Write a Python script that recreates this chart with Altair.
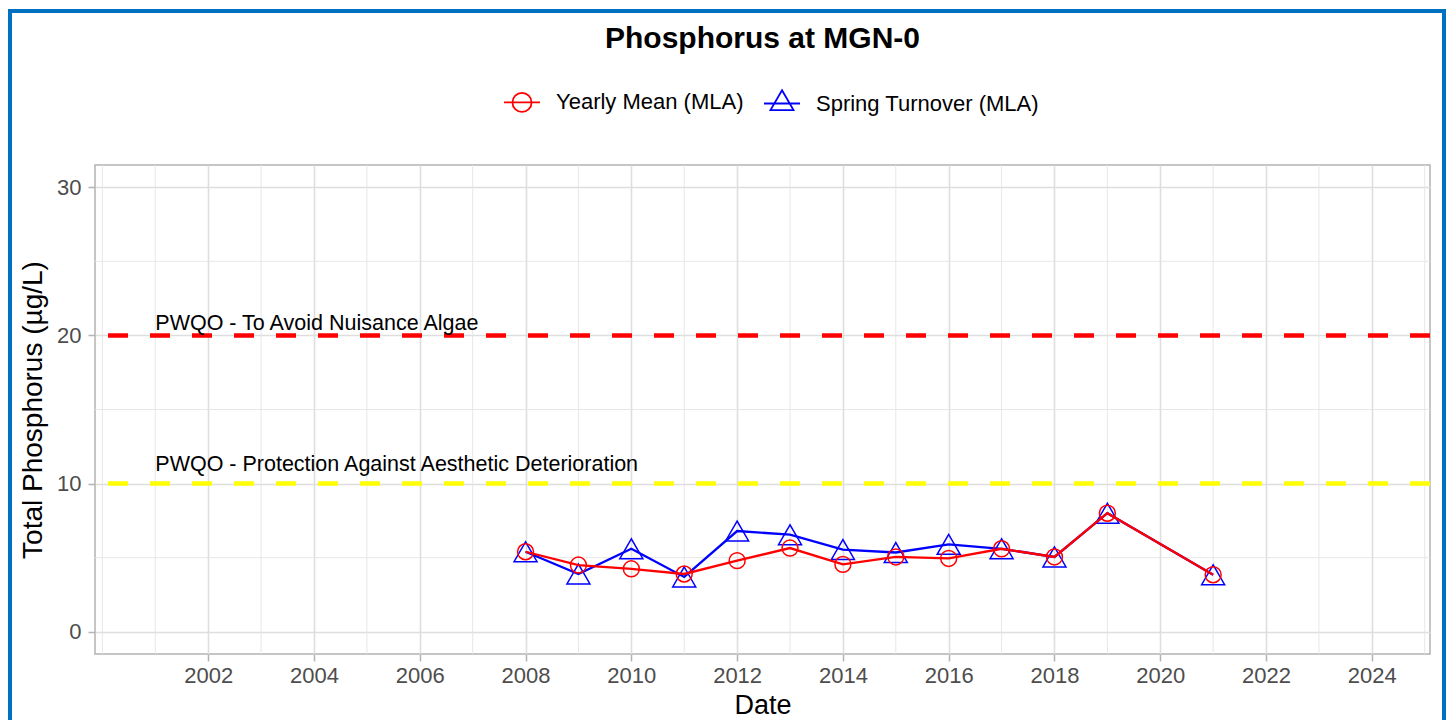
import altair as alt
import pandas as pd

# ---- data ----
years = [2008, 2009, 2010, 2011, 2012, 2013, 2014, 2015, 2016, 2017, 2018, 2019, 2021]
yearly_mean = [5.4, 4.5, 4.25, 3.9, 4.8, 5.65, 4.55, 5.05, 4.95, 5.6, 5.05, 8.0, 3.85]
spring_turnover = [5.4, 3.9, 5.6, 3.7, 6.8, 6.55, 5.55, 5.35, 5.9, 5.6, 5.05, 8.0, 3.85]
series_names = ["Yearly Mean (MLA)", "Spring Turnover (MLA)"]
series_colors = ["#FF0000", "#0000FF"]

threshold_values = [20, 10]
threshold_colors = ["#FF0000", "#FFFF00"]
threshold_labels = ["PWQO - To Avoid Nuisance Algae",
                    "PWQO - Protection Against Aesthetic Deterioration"]
label_x = [2001, 2001]
label_y = [20.37, 10.83]

x_major = list(range(2002, 2025, 2))
x_minor = [2000] + list(range(2001, 2026, 2))
y_major = [0, 10, 20, 30]
y_minor = [5, 15, 25]

FONT = "Liberation Sans"
W, H = 1335, 489

df_mean = pd.DataFrame({"year": years, "value": yearly_mean, "series": series_names[0]})
df_spring = pd.DataFrame({"year": years, "value": spring_turnover, "series": series_names[1]})
df_thr = pd.DataFrame({"y": threshold_values, "c": threshold_colors})
df_lab = pd.DataFrame({"x": label_x, "y": label_y, "t": threshold_labels})

x_scale = alt.Scale(domain=[1999.86, 2025.1], nice=False, zero=False)
y_scale = alt.Scale(domain=[-1.5, 31.5], nice=False, zero=False)

x_axis = alt.Axis(values=x_major, format="d", title="Date", grid=True,
                  gridColor="#DEDEDE", gridWidth=1.6, domain=False,
                  tickColor="#B3B3B3", tickWidth=1.5, tickSize=7,
                  labelPadding=4, labelFont=FONT, labelFontSize=22, labelColor="#4D4D4D",
                  titleFont=FONT, titleFontSize=27, titleFontWeight="normal",
                  titleColor="black", titlePadding=6)
y_axis = alt.Axis(values=y_major, title="Total Phosphorus (µg/L)", grid=True,
                  gridColor="#DEDEDE", gridWidth=1.6, domain=False,
                  tickColor="#B3B3B3", tickWidth=1.5, tickSize=7,
                  labelPadding=7, labelFont=FONT, labelFontSize=22, labelColor="#4D4D4D",
                  titleFont=FONT, titleFontSize=28, titleFontWeight="normal",
                  titleColor="black", titlePadding=9)

circle_path = "M-1,0L1,0M0.53,0A0.53,0.53,0,1,1,-0.53,0A0.53,0.53,0,1,1,0.53,0Z"
tri_path = "M-1,0L1,0M0,-0.74L0.64,0.37L-0.64,0.37Z"

legend = alt.Legend(
    title=None, orient="none", legendX=408, legendY=-82, direction="horizontal",
    symbolType={"expr": f"datum.value === '{series_names[0]}' ? '{circle_path}' : '{tri_path}'"},
    symbolSize=1296, symbolStrokeWidth=1.8, symbolFillColor="transparent",
    labelFont=FONT, labelFontSize=22, labelColor="black", labelOffset=15,
    labelLimit=500, columnPadding=16, padding=0,
)
color = alt.Color("series:N", scale=alt.Scale(domain=series_names, range=series_colors),
                  legend=legend)

X = lambda f: alt.X(f, scale=x_scale, axis=x_axis)
Y = lambda f: alt.Y(f, scale=y_scale, axis=y_axis)

minor_x = alt.Chart(pd.DataFrame({"x": x_minor})).mark_rule(
    color="#E4E4E4", strokeWidth=0.9).encode(x=X("x:Q"))
minor_y = alt.Chart(pd.DataFrame({"y": y_minor})).mark_rule(
    color="#E4E4E4", strokeWidth=0.9).encode(y=Y("y:Q"))

thr = alt.Chart(df_thr).mark_rule(strokeWidth=4.5, strokeDash=[20, 22]).encode(
    y=Y("y:Q"), color=alt.Color("c:N", scale=None))

labels = alt.Chart(df_lab).mark_text(
    align="left", baseline="alphabetic", font=FONT, fontSize=21.5, color="black"
).encode(x=X("x:Q"), y=Y("y:Q"), text="t:N")

def series_layers(df, shape, size):
    base = alt.Chart(df).encode(x=X("year:Q"), y=Y("value:Q"), color=color)
    line = base.mark_line(strokeWidth=2.3)
    pts = base.mark_point(shape=shape, size=size, filled=False, strokeWidth=1.5, opacity=1)
    return [line, pts]

blue = series_layers(df_spring, "triangle-up", 529)
red = series_layers(df_mean, "circle", 254)

frame = alt.Chart(pd.DataFrame({"a": [0]})).mark_rect(
    fill="transparent", stroke="#0070C0", strokeWidth=4
).encode(x=alt.value(-85), x2=alt.value(W + 14), y=alt.value(-154), y2=alt.value(H + 120))

chart = alt.layer(minor_x, minor_y, thr, labels, *blue, *red, frame).properties(
    width=W, height=H,
    title=alt.TitleParams("Phosphorus at MGN-0", font=FONT, fontSize=30, fontWeight="bold",
                          color="black", anchor="middle", frame="group", offset=0, dy=45),
    autosize=alt.AutoSizeParams(type="none"),
    padding={"left": 87, "top": 157, "right": 16, "bottom": 66},
    background="white",
).configure_view(stroke="#B3B3B3", strokeWidth=1.5)

chart.save("out.html", embed_options={"renderer": "svg", "actions": False})
